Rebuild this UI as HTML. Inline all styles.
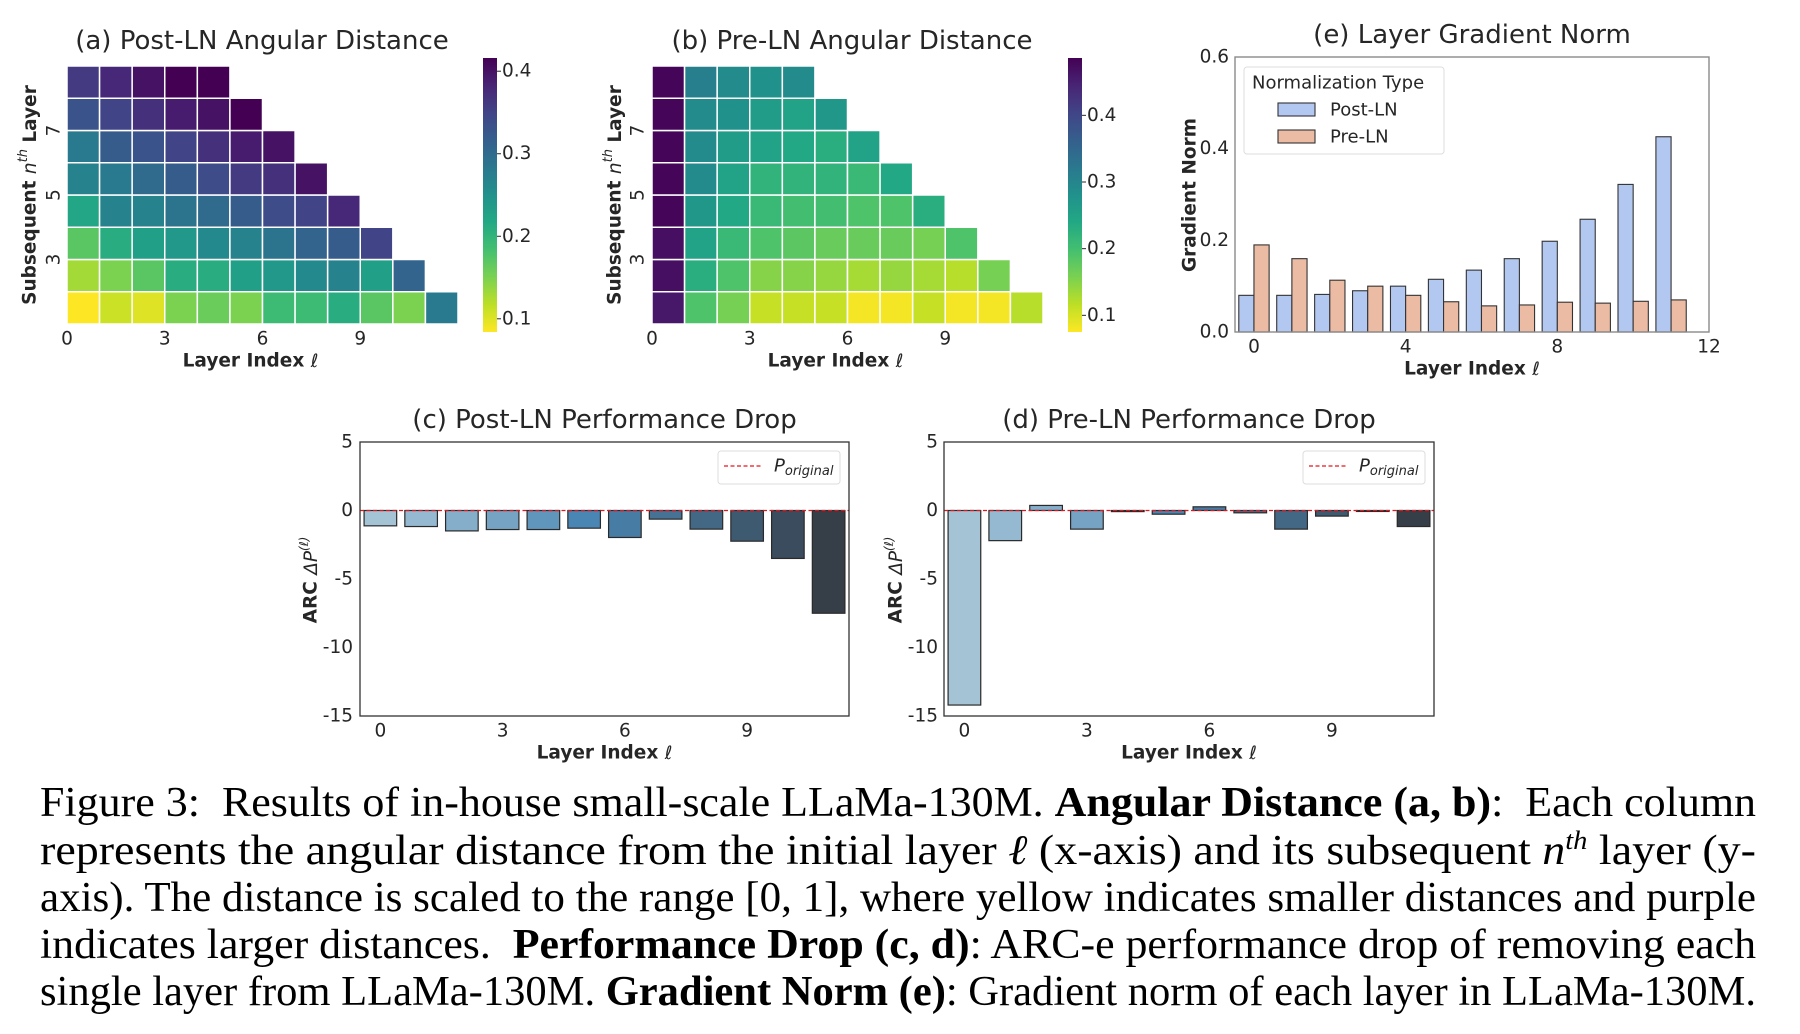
<!DOCTYPE html>
<html><head><meta charset="utf-8">
<style>
html,body{margin:0;padding:0;background:#fff;}
body{width:1800px;height:1034px;overflow:hidden;position:relative;}
svg{position:absolute;left:0;top:0;}
svg text{font-family:"DejaVu Sans","Liberation Sans",sans-serif;fill:#262626;}
.cap{position:absolute;left:40px;font-family:"Liberation Serif",serif;font-size:42px;color:#000;white-space:nowrap;line-height:44px;height:44px;transform-origin:0 50%;display:inline-block;}
.m{font-style:italic;}
.sup{font-size:26px;position:relative;top:-15px;line-height:0;font-style:italic;}
</style></head>
<body>
<svg id="fig" width="1800" height="780" viewBox="0 0 1800 780">
<defs>
<linearGradient id="cbar" x1="0" y1="1" x2="0" y2="0">
<stop offset="0" stop-color="#fde725"/><stop offset="0.1" stop-color="#bddf26"/><stop offset="0.2" stop-color="#7ad151"/><stop offset="0.3" stop-color="#44bf70"/><stop offset="0.4" stop-color="#22a884"/><stop offset="0.5" stop-color="#21918c"/><stop offset="0.6" stop-color="#2a788e"/><stop offset="0.7" stop-color="#355f8d"/><stop offset="0.8" stop-color="#414487"/><stop offset="0.9" stop-color="#482475"/><stop offset="1" stop-color="#440154"/>
</linearGradient>
</defs>
</svg>
<div class="cap" style="top:781px">Figure 3:&nbsp; Results of in-house small-scale LLaMa-130M. <b>Angular Distance (a, b)</b>:&nbsp; Each column</div>
<div class="cap" style="top:829px">represents the angular distance from the initial layer <span class="m">ℓ</span> (x-axis) and its subsequent <span class="m">n</span><span class="sup">th</span> layer (y-</div>
<div class="cap" style="top:876px">axis). The distance is scaled to the range [0, 1], where yellow indicates smaller distances and purple</div>
<div class="cap" style="top:923px">indicates larger distances.&nbsp; <b>Performance Drop (c, d)</b>: ARC-e performance drop of removing each</div>
<div class="cap" style="top:970px">single layer from LLaMa-130M. <b>Gradient Norm (e)</b>: Gradient norm of each layer in LLaMa-130M.</div>
<script>
// ---------- data ----------
// heatmap rows: index 0 = n=1 (bottom row), each row has 13-n cells
const postLNAngular = [
 [0.08,0.11,0.10,0.15,0.16,0.15,0.19,0.19,0.21,0.17,0.15,0.28],
 [0.13,0.15,0.17,0.21,0.21,0.23,0.24,0.26,0.27,0.23,0.31],
 [0.17,0.21,0.23,0.24,0.26,0.27,0.29,0.31,0.32,0.35],
 [0.22,0.27,0.27,0.29,0.30,0.32,0.34,0.35,0.38],
 [0.27,0.28,0.30,0.32,0.34,0.36,0.37,0.40],
 [0.28,0.32,0.33,0.35,0.37,0.39,0.40],
 [0.33,0.35,0.37,0.39,0.40,0.42],
 [0.36,0.38,0.40,0.42,0.42]
];
const preLNAngular = [
 [0.46,0.19,0.16,0.11,0.11,0.11,0.08,0.08,0.11,0.08,0.08,0.12],
 [0.47,0.23,0.19,0.15,0.15,0.14,0.13,0.14,0.13,0.12,0.16],
 [0.47,0.25,0.21,0.19,0.18,0.17,0.17,0.17,0.16,0.19],
 [0.48,0.27,0.24,0.21,0.20,0.20,0.19,0.19,0.23],
 [0.48,0.29,0.25,0.22,0.22,0.22,0.21,0.24],
 [0.48,0.29,0.26,0.25,0.24,0.23,0.25],
 [0.48,0.29,0.28,0.26,0.25,0.27],
 [0.48,0.31,0.29,0.28,0.29]
];
const postLNRange = [0.084,0.416];
const preLNRange = [0.075,0.486];
const postLNCbarTicks = [0.1,0.2,0.3,0.4];
const preLNCbarTicks = [0.1,0.2,0.3,0.4];
const heatXTicks = [0,3,6,9];
const heatYTicks = [3,5,7];
const perfLayers = [0,1,2,3,4,5,6,7,8,9,10,11];
const postLNDrop = [-1.12,-1.17,-1.49,-1.39,-1.39,-1.29,-1.97,-0.63,-1.36,-2.24,-3.5,-7.5];
const preLNDrop = [-14.2,-2.2,0.37,-1.36,-0.08,-0.27,0.27,-0.17,-1.36,-0.41,-0.07,-1.17];
const perfYTicks = [5,0,-5,-10,-15];
const perfXTicks = [0,3,6,9];
const gradPostLN = [0.08,0.08,0.082,0.09,0.10,0.115,0.135,0.16,0.198,0.246,0.322,0.426];
const gradPreLN = [0.19,0.16,0.113,0.10,0.08,0.066,0.057,0.059,0.065,0.063,0.067,0.07];
const gradYTicks = [0.0,0.2,0.4,0.6];
const gradXTicks = [0,4,8,12];

// ---------- helpers ----------
const svg = document.getElementById('fig');
const NS = 'http://www.w3.org/2000/svg';
const TS = 18.5, LS = 18.5, TT = 26;
function mk(tag, attrs, parent){const e=document.createElementNS(NS,tag);for(const k in attrs)e.setAttribute(k,attrs[k]);(parent||svg).appendChild(e);return e;}
function txt(s, x, y, size, anchor, extra){const t=mk('text',Object.assign({x:x,y:y,'font-size':size,'text-anchor':anchor||'middle','dominant-baseline':'central'},extra||{}));t.textContent=s;return t;}
const VIR=[[68,1,84],[72,36,117],[65,68,135],[53,95,141],[42,120,142],[33,145,140],[34,168,132],[68,191,112],[122,209,81],[189,223,38],[253,231,37]];
function viridis(t){t=Math.max(0,Math.min(1,t));const p=t*10,i=Math.min(9,Math.floor(p)),f=p-i;const a=VIR[i],b=VIR[i+1];return 'rgb('+a.map((v,k)=>Math.round(v+(b[k]-v)*f)).join(',')+')';}
const PAL=[[0,[164,196,214]],[3,[118,163,196]],[5,[74,134,180]],[8,[66,104,134]],[11,[54,62,72]]];
function pal(i){for(let k=0;k<PAL.length-1;k++){const [a,ca]=PAL[k],[b,cb]=PAL[k+1];if(i>=a&&i<=b){const f=(i-a)/(b-a);return 'rgb('+ca.map((v,j)=>Math.round(v+(cb[j]-v)*f)).join(',')+')';}}return 'rgb(54,62,72)';}

// ---------- heatmaps ----------
function heatmap(name, data, range, cbTicks, x0, x1, y0, y1, cbx, title, titleX, ylabX, yTickX){
  const g=mk('g',{});
  
  
  const nCols=12,nRows=8,cw=(x1-x0)/nCols,ch=(y1-y0)/nRows;
  const sx=c=>x0+c*cw, sy=r=>y1-r*ch;
  data.forEach((row,r)=>{row.forEach((v,c)=>{
    const rc=mk('rect',{x:sx(c),y:sy(r+1),width:cw,height:ch,fill:viridis(1-(v-range[0])/(range[1]-range[0])),stroke:'#fff','stroke-width':1.5},g);
    
    
  });});
  const t=txt(title,titleX,41,TT,'middle',{});g.appendChild(t);
  
  
  heatXTicks.forEach(v=>{const l=txt(String(v),sx(v),339,TS,'middle');g.appendChild(l);
    
    });
  heatYTicks.forEach(v=>{const yy=sy(v-1);const l=txt(String(v),yTickX,yy,TS,'middle',{transform:'rotate(-90 '+yTickX+' '+yy+')'});g.appendChild(l);
    
    });
  const xl=txt('',(x0+x1)/2-12,361,LS,'middle',{'font-weight':'bold'});g.appendChild(xl);
  xl.innerHTML='Layer Index <tspan font-style="italic" font-weight="normal">ℓ</tspan>';
  
  
  const yc=(y0+y1)/2;
  const yl=txt('',ylabX,yc,LS,'middle',{'font-weight':'bold',transform:'rotate(-90 '+ylabX+' '+yc+')'});g.appendChild(yl);
  yl.innerHTML='Subsequent <tspan font-style="italic" font-weight="normal">n</tspan><tspan font-style="italic" font-weight="normal" font-size="13" dy="-7">th</tspan><tspan dy="7"> Layer</tspan>';
  
  
  // colorbar
  const cy0=58,cy1=332;
  const cb=mk('rect',{x:cbx,y:cy0,width:14,height:cy1-cy0,fill:'url(#cbar)'},g);
  
  
  const cys=v=>cy1-(v-range[0])/(range[1]-range[0])*(cy1-cy0);
  cbTicks.forEach(v=>{
    mk('line',{x1:cbx+14,x2:cbx+18,y1:cys(v),y2:cys(v),stroke:'#262626','stroke-width':1},g);
    const l=txt(v.toFixed(1),cbx+19,cys(v),TS,'start');g.appendChild(l);
    
    
  });
}
heatmap('heatmap-post-ln',postLNAngular,postLNRange,postLNCbarTicks,67,458,66,324,483,'(a) Post-LN Angular Distance',262,30,54);
heatmap('heatmap-pre-ln',preLNAngular,preLNRange,preLNCbarTicks,652,1043,66,324,1068,'(b) Pre-LN Angular Distance',852,615,638);

// ---------- performance drop ----------
function perf(name, vals, x0, x1, title, ylabX, tickRX){
  const y0=442,y1=716,ymin=-15,ymax=5;
  const g=mk('g',{});
  
  
  const sx=v=>x0+(v+0.5)/12*(x1-x0), sy=v=>y1-(v-ymin)/(ymax-ymin)*(y1-y0);
  const bw=0.8/12*(x1-x0);
  vals.forEach((v,i)=>{
    const top=Math.min(sy(v),sy(0)),h=Math.abs(sy(v)-sy(0));
    const b=mk('rect',{x:sx(perfLayers[i])-bw/2,y:top,width:bw,height:h,fill:pal(i),stroke:'#2a2a2a','stroke-width':1.2},g);
    
    
  });
  const zl=mk('line',{x1:x0,x2:x1,y1:sy(0),y2:sy(0),stroke:'#e8141c','stroke-width':1.2,'stroke-dasharray':'4,2.5'},g);
  
  
  const fr=mk('rect',{x:x0,y:y0,width:x1-x0,height:y1-y0,fill:'none',stroke:'#333','stroke-width':1.3},g);
  
  
  perfYTicks.forEach(v=>{const l=txt(String(v),tickRX,sy(v),TS,'end');g.appendChild(l);
    
    });
  perfXTicks.forEach(v=>{const l=txt(String(v),sx(v),731,TS,'middle');g.appendChild(l);
    
    });
  const t=txt(title,(x0+x1)/2,420,TT,'middle');g.appendChild(t);
  
  
  const xl=txt('',(x0+x1)/2,753,LS,'middle',{'font-weight':'bold'});g.appendChild(xl);
  xl.innerHTML='Layer Index <tspan font-style="italic" font-weight="normal">ℓ</tspan>';
  
  
  const yc=580;
  const yl=txt('',ylabX,yc,LS,'middle',{'font-weight':'bold',transform:'rotate(-90 '+ylabX+' '+yc+')'});g.appendChild(yl);
  yl.innerHTML='ARC <tspan font-style="italic" font-weight="normal">ΔP</tspan><tspan font-style="italic" font-weight="normal" font-size="12" dy="-7">(ℓ)</tspan>';
  
  
  // legend
  const lx=x1-131,ly=451;
  const lg=mk('rect',{x:lx,y:ly,width:122,height:33,rx:3,fill:'#fff',stroke:'#ddd','stroke-width':1},g);
  
  
  mk('line',{x1:lx+6,x2:lx+43,y1:ly+15,y2:ly+15,stroke:'#e8141c','stroke-width':1.2,'stroke-dasharray':'4,2.5'},g);
  const lt=txt('',lx+56,ly+15,18,'start',{'font-style':'italic'});g.appendChild(lt);
  lt.innerHTML='P<tspan font-size="13" dy="5">original</tspan>';
  
  
}
perf('perf-drop-post-ln',postLNDrop,360,849,'(c) Post-LN Performance Drop',311,353);
perf('perf-drop-pre-ln',preLNDrop,944,1434,'(d) Pre-LN Performance Drop',896,938);

// ---------- gradient norm ----------
(function(){
  const x0=1235,x1=1709,y0=57,y1=332,ymax=0.6;
  const g=mk('g',{});
  
  
  const sx=v=>x0+(v+0.5)/12.5*(x1-x0), sy=v=>y1-v/ymax*(y1-y0);
  const u=(x1-x0)/12.5;
  gradPostLN.forEach((v,i)=>{const b=mk('rect',{x:sx(i)-0.4*u,y:sy(v),width:0.4*u,height:sy(0)-sy(v),fill:'#b3c8f1',stroke:'#333','stroke-width':1.1},g);
    
    });
  gradPreLN.forEach((v,i)=>{const b=mk('rect',{x:sx(i),y:sy(v),width:0.4*u,height:sy(0)-sy(v),fill:'#ebbba4',stroke:'#333','stroke-width':1.1},g);
    
    });
  const fr=mk('rect',{x:x0,y:y0,width:x1-x0,height:y1-y0,fill:'none',stroke:'#8a8a8a','stroke-width':1.4},g);
  
  
  gradYTicks.forEach(v=>{const l=txt(v.toFixed(1),1229,sy(v),TS,'end');g.appendChild(l);
    
    });
  gradXTicks.forEach(v=>{const l=txt(String(v),sx(v),347,TS,'middle');g.appendChild(l);
    
    });
  const t=txt('(e) Layer Gradient Norm',1472,35,TT,'middle');g.appendChild(t);
  
  
  const xl=txt('',1472,369,LS,'middle',{'font-weight':'bold'});g.appendChild(xl);
  xl.innerHTML='Layer Index <tspan font-style="italic" font-weight="normal">ℓ</tspan>';
  
  
  const yl=txt('Gradient Norm',1190,195,LS,'middle',{'font-weight':'bold',transform:'rotate(-90 1190 195)'});g.appendChild(yl);
  
  
  const lg=mk('rect',{x:1244,y:67,width:200,height:87,rx:3,fill:'#fff',stroke:'#ddd','stroke-width':1},g);
  
  
  const lt=txt('Normalization Type',1252,83,18,'start');g.appendChild(lt);
  
  
  mk('rect',{x:1278,y:103,width:37,height:13,fill:'#b3c8f1',stroke:'#333','stroke-width':1.1},g);
  const e1=txt('Post-LN',1330,110,18,'start');g.appendChild(e1);
  
  
  mk('rect',{x:1278,y:130,width:37,height:13,fill:'#ebbba4',stroke:'#333','stroke-width':1.1},g);
  const e2=txt('Pre-LN',1330,137,18,'start');g.appendChild(e2);
  
  
})();

// fit caption lines to the text block width
document.querySelectorAll('.cap').forEach(function(el){
  var w = el.getBoundingClientRect().width;
  if (w > 0) el.style.transform = 'scaleX(' + (1716 / w) + ')';
});
</script>
</body></html>
